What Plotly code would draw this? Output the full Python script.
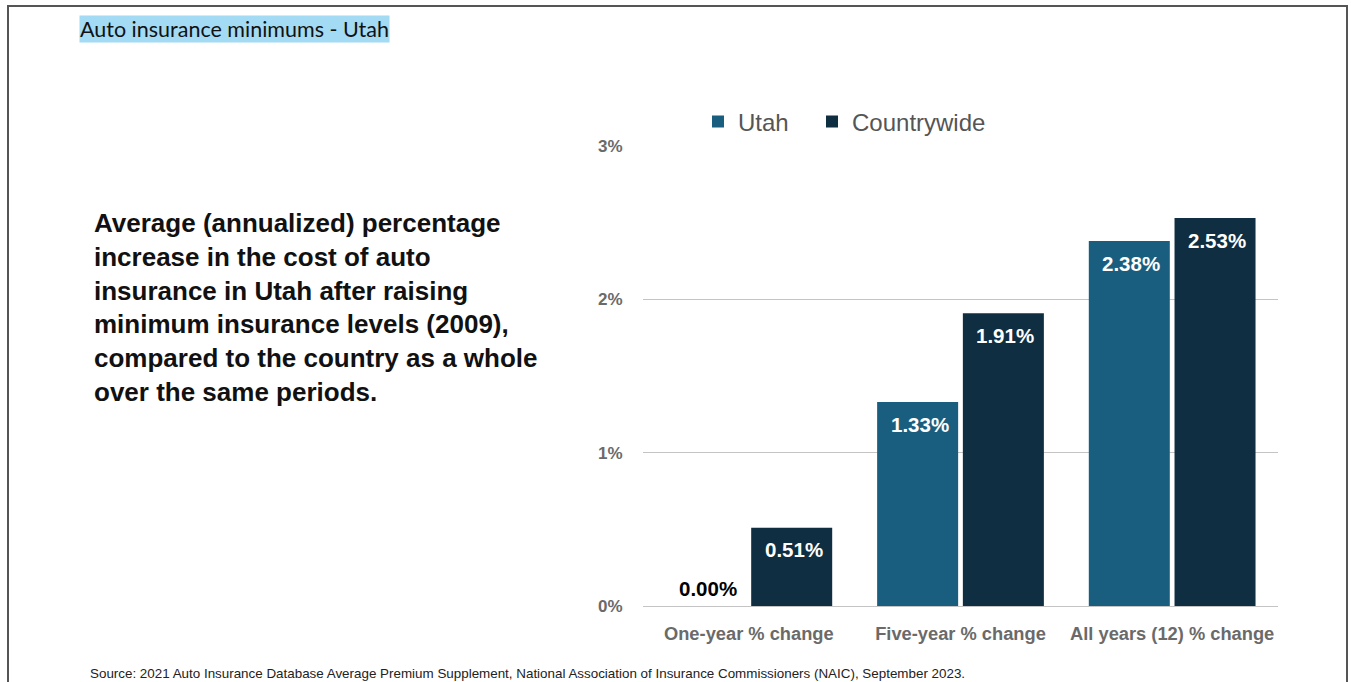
import plotly.graph_objects as go

categories = ["One-year % change", "Five-year % change", "All years (12) % change"]
utah = [0.00, 1.33, 2.38]
countrywide = [0.51, 1.91, 2.53]
tick_vals = [0, 1, 2, 3]
tick_text = ["0%", "1%", "2%", "3%"]

UTAH_COLOR = "#1a5e7f"
CW_COLOR = "#0f2e41"
FONT = "Liberation Sans"

W, H = 1351, 682
ML, MR, MT, MB = 643, 73, 146, 76
PW, PH = W - ML - MR, H - MT - MB


def px_x(px):
    return (px - ML) / PW


def px_y(py):
    return (H - MB - py) / PH


BARGAP = 0.19
GROUPGAP = 0.055
x_idx = list(range(len(categories)))

fig = go.Figure()
fig.add_trace(go.Bar(name="Utah", x=x_idx, y=utah, marker_color=UTAH_COLOR,
                     marker_line_width=0, legend="legend"))
fig.add_trace(go.Bar(name="Countrywide", x=x_idx, y=countrywide, marker_color=CW_COLOR,
                     marker_line_width=0, legend="legend2"))

# value labels at the top of each bar
slot = (1 - BARGAP) / 2
annotations = []
for series, sign in ((utah, -1), (countrywide, 1)):
    for i, v in enumerate(series):
        inside = v > 0.2
        annotations.append(dict(
            x=i + sign * slot / 2 + 0.01, y=v, xref="x", yref="y",
            text=f"{v:.2f}%", showarrow=False,
            yshift=-22 if inside else 18,
            font=dict(family=FONT, size=20.5, color="white" if inside else "black",
                      weight="bold"),
        ))

# heading, description and source
annotations.append(dict(
    x=px_x(79), y=px_y(28.5), xref="paper", yref="paper", xanchor="left", yanchor="middle",
    text="Auto insurance minimums - Utah", showarrow=False, bgcolor="#a3daf4",
    borderpad=0, font=dict(family="Lato", size=21.5, color="#111111"),
))
annotations.append(dict(
    x=px_x(92), y=px_y(307), xref="paper", yref="paper", xanchor="left", yanchor="middle",
    align="left", showarrow=False,
    text=("Average (annualized) percentage<br>increase in the cost of auto<br>"
          "insurance in Utah after raising<br>minimum insurance levels (2009),<br>"
          "compared to the country as a whole<br>over the same periods."),
    font=dict(family=FONT, size=26, color="#111111", weight="bold"),
))
annotations.append(dict(
    x=px_x(88), y=px_y(673), xref="paper", yref="paper", xanchor="left", yanchor="middle",
    showarrow=False,
    text=("Source: 2021 Auto Insurance Database Average Premium Supplement, National "
          "Association of Insurance Commissioners (NAIC), September 2023."),
    font=dict(family=FONT, size=13.4, color="#222222"),
))

legend_style = dict(orientation="h", xanchor="left", yanchor="middle",
                    font=dict(family=FONT, size=24, color="#555555"),
                    bgcolor="rgba(0,0,0,0)")

fig.update_layout(
    width=W, height=H,
    margin=dict(l=ML, r=MR, t=MT, b=MB),
    paper_bgcolor="white", plot_bgcolor="white",
    barmode="group", bargap=BARGAP, bargroupgap=GROUPGAP,
    showlegend=True,
    legend=dict(x=px_x(698), y=px_y(122), **legend_style),
    legend2=dict(x=px_x(812), y=px_y(122), **legend_style),
    xaxis=dict(range=[-0.5, 2.5], tickvals=x_idx, ticktext=categories,
               showgrid=False, zeroline=False, showline=False,
               ticks="outside", ticklen=11, tickcolor="rgba(0,0,0,0)",
               tickfont=dict(family=FONT, size=18.3, color="#6a6a6a", weight="bold")),
    yaxis=dict(range=[0, 3], tickvals=tick_vals, ticktext=tick_text,
               showgrid=True, gridcolor="#c4c4c4", gridwidth=1,
               zeroline=True, zerolinecolor="#c4c4c4", zerolinewidth=1,
               showline=False, ticks="outside", ticklen=16,
               tickcolor="rgba(0,0,0,0)",
               tickfont=dict(family=FONT, size=17, color="#6a6a6a", weight="bold")),
    annotations=annotations,
    shapes=[dict(type="rect", xref="paper", yref="paper",
                 x0=px_x(8), x1=px_x(1347), y0=px_y(700), y1=px_y(6),
                 line=dict(color="#555555", width=2), fillcolor="rgba(0,0,0,0)",
                 layer="below")],
)

fig.write_html("out.html")
